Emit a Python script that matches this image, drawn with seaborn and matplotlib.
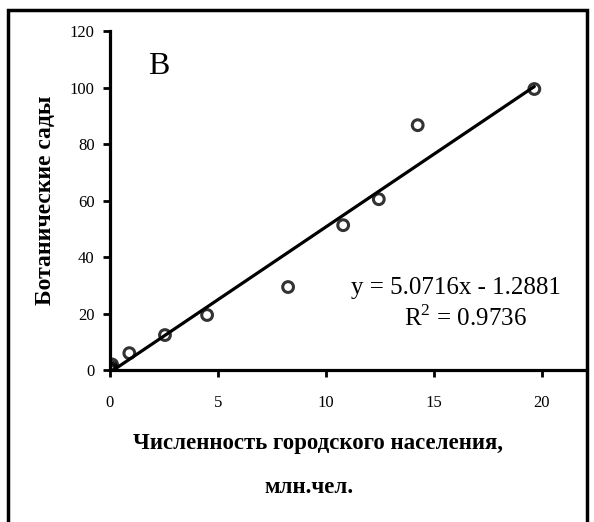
import numpy as np
import pandas as pd
import seaborn as sns
import matplotlib.pyplot as plt
from matplotlib.patches import Rectangle

# urban population (mln) vs number of botanical gardens
population = [0.0, 0.03, 0.06, 0.1, 0.9, 2.55, 4.5, 8.25, 10.8, 12.45, 14.25, 19.65]
gardens = [0, 0.5, 1, 2, 6, 12.4, 19.5, 29.4, 51.3, 60.5, 86.7, 99.5]
x_ticks = [0, 5, 10, 15, 20]
y_ticks = [0, 20, 40, 60, 80, 100, 120]

df = pd.DataFrame({"pop": population, "gardens": gardens})

sns.set_style("ticks")
plt.rcParams["font.family"] = ["Liberation Serif", "DejaVu Serif"]
plt.rcParams["mathtext.fontset"] = "custom"
plt.rcParams["mathtext.rm"] = "Liberation Serif"
plt.rcParams["text.color"] = "black"
plt.rcParams["axes.labelcolor"] = "black"

fig = plt.figure(figsize=(5.94, 5.22), dpi=100)
ax = fig.add_axes([0.185, 0.291, 0.80, 0.6494])

sns.regplot(
    data=df, x="pop", y="gardens", ax=ax, ci=None, truncate=True,
    scatter_kws=dict(s=60, facecolors="none", edgecolors="black", linewidths=2.2, zorder=3),
    line_kws=dict(color="black", lw=2.3),
)

ax.set_xlim(0, 22)
ax.set_ylim(0, 120)
ax.set_xticks(x_ticks)
ax.set_yticks(y_ticks)
ax.tick_params(axis="x", direction="out", length=5, width=2, pad=13, labelsize=12,
               colors="black")
ax.tick_params(axis="y", direction="out", length=5, width=2, pad=6, labelsize=12,
               colors="black")
sns.despine(ax=ax)
for s in ["left", "bottom"]:
    ax.spines[s].set_linewidth(2.3)
    ax.spines[s].set_color("black")

ax.set_xlabel("")
ax.set_ylabel("Ботанические сады", fontsize=17, fontweight="bold", labelpad=10)

fig.text(0.535, 0.151, "Численность городского населения,", ha="center", va="center",
         fontsize=16.5, fontweight="bold")
fig.text(0.52, 0.067, "млн.чел.", ha="center", va="center", fontsize=16.5, fontweight="bold")

ax.text(0.08, 0.895, "B", transform=ax.transAxes, fontsize=23, va="center")
ax.text(0.728, 0.242, "y = 5.0716x - 1.2881", transform=ax.transAxes, ha="center",
        va="center", fontsize=18)
ax.text(0.749, 0.153, "R$^2$ = 0.9736", transform=ax.transAxes, ha="center", va="center",
        fontsize=18)

fig.patches.append(Rectangle((8 / 594, -0.05), 579 / 594, 1.05 - 10 / 522,
                             transform=fig.transFigure, fill=False, edgecolor="black",
                             linewidth=2.5))

fig.savefig("out.png", dpi=100)
